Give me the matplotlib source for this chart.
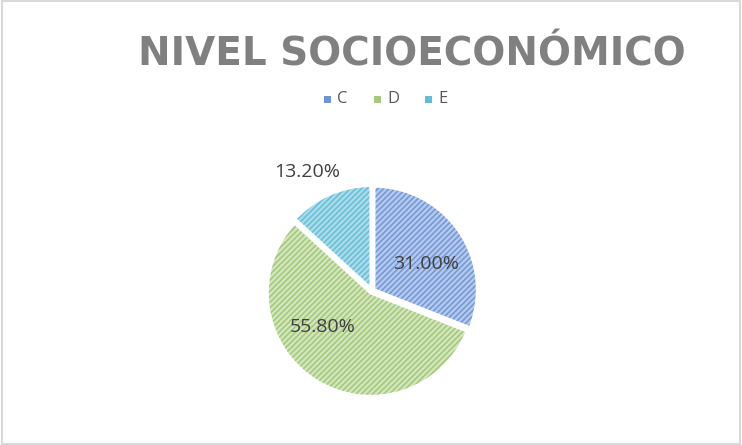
import matplotlib
matplotlib.use("Agg")
import matplotlib.pyplot as plt
from matplotlib.patches import Rectangle

categories = ["C", "D", "E"]
values = [31.0, 55.8, 13.2]
labels = ["31.00%", "55.80%", "13.20%"]
title = "NIVEL SOCIOECONÓMICO"

face_colors = ["#b4c9ec", "#d3e5bf", "#a9dcea"]
hatch_colors = ["#7097d6", "#a2c874", "#66bdd6"]
legend_colors = ["#6f93d3", "#a5c97a", "#62bcd6"]

plt.rcParams["font.family"] = ["Open Sans", "DejaVu Sans"]
plt.rcParams["hatch.linewidth"] = 1.1

fig = plt.figure(figsize=(7.42, 4.45), dpi=100)
fig.patches.append(Rectangle((0.003, 0.003), 0.994, 0.994, transform=fig.transFigure,
                             fill=False, edgecolor="#d9d9d9", linewidth=1.5, zorder=0))

W, H = 742, 445
fig.text(412 / W, (H - 66) / H, title, ha="center", va="baseline", fontsize=28,
         fontweight="bold", color="#808080", family=["DejaVu Sans"])

# pie axes: center (372, 291), radius ~108 px
cx, cy, r = 372, 291, 109
ax = fig.add_axes([(cx - r) / W, (H - cy - r) / H, 2 * r / W, 2 * r / H])
wedges, _ = ax.pie(values, startangle=90, counterclock=False, radius=1.0,
                   explode=[0.02, 0.02, 0.02],
                   colors=face_colors,
                   wedgeprops=dict(linewidth=0))
for w, hc in zip(wedges, hatch_colors):
    w.set_hatch("//////")
    w.set_edgecolor(hc)
    w.set_linewidth(0)
wedges2, _ = ax.pie(values, startangle=90, counterclock=False, radius=1.0,
                    explode=[0.02, 0.02, 0.02],
                    colors=["none"] * 3,
                    wedgeprops=dict(edgecolor="white", linewidth=2.5))
ax.set_xlim(-1.05, 1.05)
ax.set_ylim(-1.05, 1.05)
ax.set_aspect("equal")

def px(x, y):
    return ((x - (cx - r)) / (2 * r) * 2.1 - 1.05, ((cy + r) - y) / (2 * r) * 2.1 - 1.05)

label_pos = [(426, 264), (323, 327), (307, 172)]
for lab, (lx, ly) in zip(labels, label_pos):
    x, y = px(lx, ly)
    ax.text(x, y, lab, ha="center", va="center", fontsize=14, color="#404040")

# legend
leg_x = [327, 377, 428]
for c, lx, col in zip(categories, leg_x, legend_colors):
    fig.patches.append(Rectangle(((lx - 3.5) / W, (H - 99 - 3.5) / H), 7 / W, 7 / H,
                                 transform=fig.transFigure, facecolor=col,
                                 edgecolor="none"))
    fig.text((lx + 10) / W, (H - 99) / H, c, ha="left", va="center",
             fontsize=12, color="#595959")

fig.savefig("out.png", dpi=100)
